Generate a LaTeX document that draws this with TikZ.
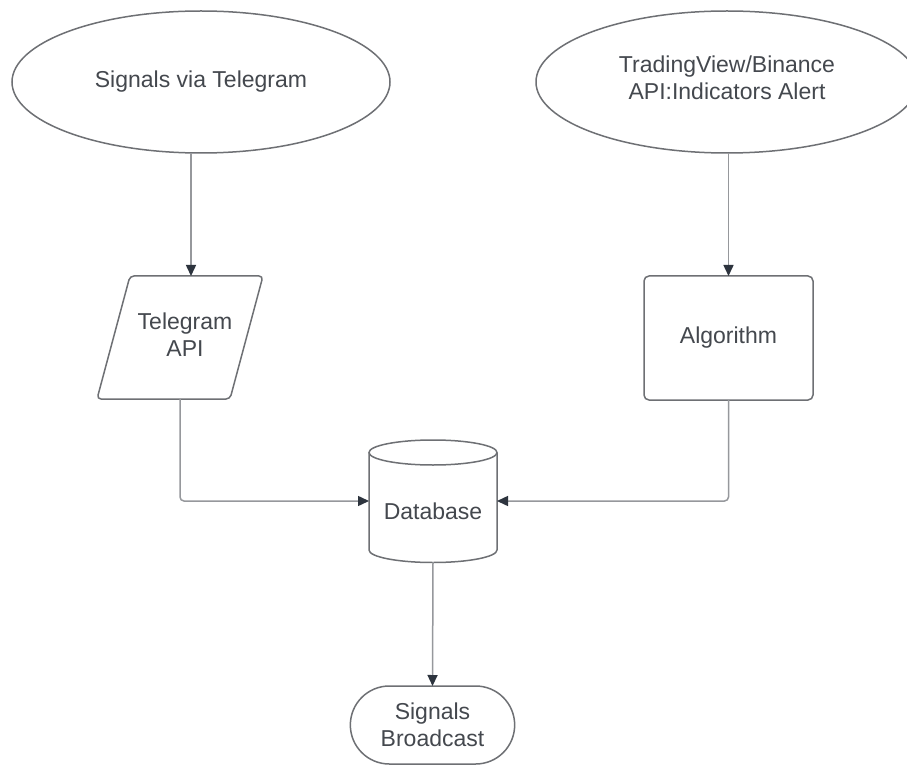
\documentclass[tikz,border=0pt]{standalone}
\usepackage{fontspec}
\setmainfont{Liberation Sans}
\usetikzlibrary{shapes.geometric,shapes.misc,arrows.meta}
\definecolor{shapeline}{RGB}{110,112,116}
\definecolor{connline}{RGB}{150,152,156}
\definecolor{tipc}{RGB}{45,52,62}
\definecolor{txt}{RGB}{68,72,78}
\begin{document}
\begin{tikzpicture}[x=1pt,y=-1pt,
  every node/.style={font=\fontsize{23pt}{27pt}\selectfont, text=txt, outer sep=0pt},
  shp/.style={draw=shapeline, line width=1.5pt},
  conn/.style={draw=connline, line width=1.5pt, rounded corners=4pt},
  arr/.style={conn, -{Triangle[length=11pt,width=10pt,color=tipc]}},
  ghost/.style={draw=none, inner sep=0pt}
]
\path[fill=white,use as bounding box] (0,0) rectangle (907,767);

% top ellipses
\node[shp, ellipse, minimum width=378pt, minimum height=142pt] (ell1) at (201,82) {};
\node at (201,82) {Signals via Telegram};
\node[shp, ellipse, minimum width=382pt, minimum height=142pt] (ell2) at (727,82) {};
\node[align=center] at (727,78) {TradingView/Binance\\API:Indicators Alert};

% Telegram API parallelogram
\draw[shp, rounded corners=4pt] (97,399) -- (130,276) -- (263,276) -- (230,399) -- cycle;
\node[align=center] (tapi) at (185,335) {Telegram\\API};
\coordinate (tapitop) at (191,276);
\coordinate (tapibot) at (180,399);

% Algorithm box
\node[shp, rectangle, rounded corners=5pt, minimum width=169pt, minimum height=124pt] (algo) at (728.5,338) {Algorithm};

% Database cylinder
\node[ghost, minimum width=128pt, minimum height=122pt] (db) at (433,501) {};
\draw[shp] (433,452.5) ellipse [x radius=64, y radius=12.5];
\draw[shp] (369,452.5) -- (369,550) arc[start angle=180, end angle=0, x radius=64, y radius=12.5] -- (497,452.5);
\node at (433,511) {Database};

% Signals Broadcast
\node[shp, rounded rectangle, minimum width=171pt, minimum height=78pt, align=center] (bc) at (432.5,725) {Signals\\Broadcast};

% connectors
\draw[arr] (ell1.south -| tapitop) -- (tapitop);
\draw[arr] (ell2.south -| algo.north) -- (algo.north);
\draw[arr] (tapibot) |- (db.west);
\draw[arr] (algo.south) |- (db.east);
\draw[arr] (db.south) -- (bc.north);
\end{tikzpicture}
\end{document}
